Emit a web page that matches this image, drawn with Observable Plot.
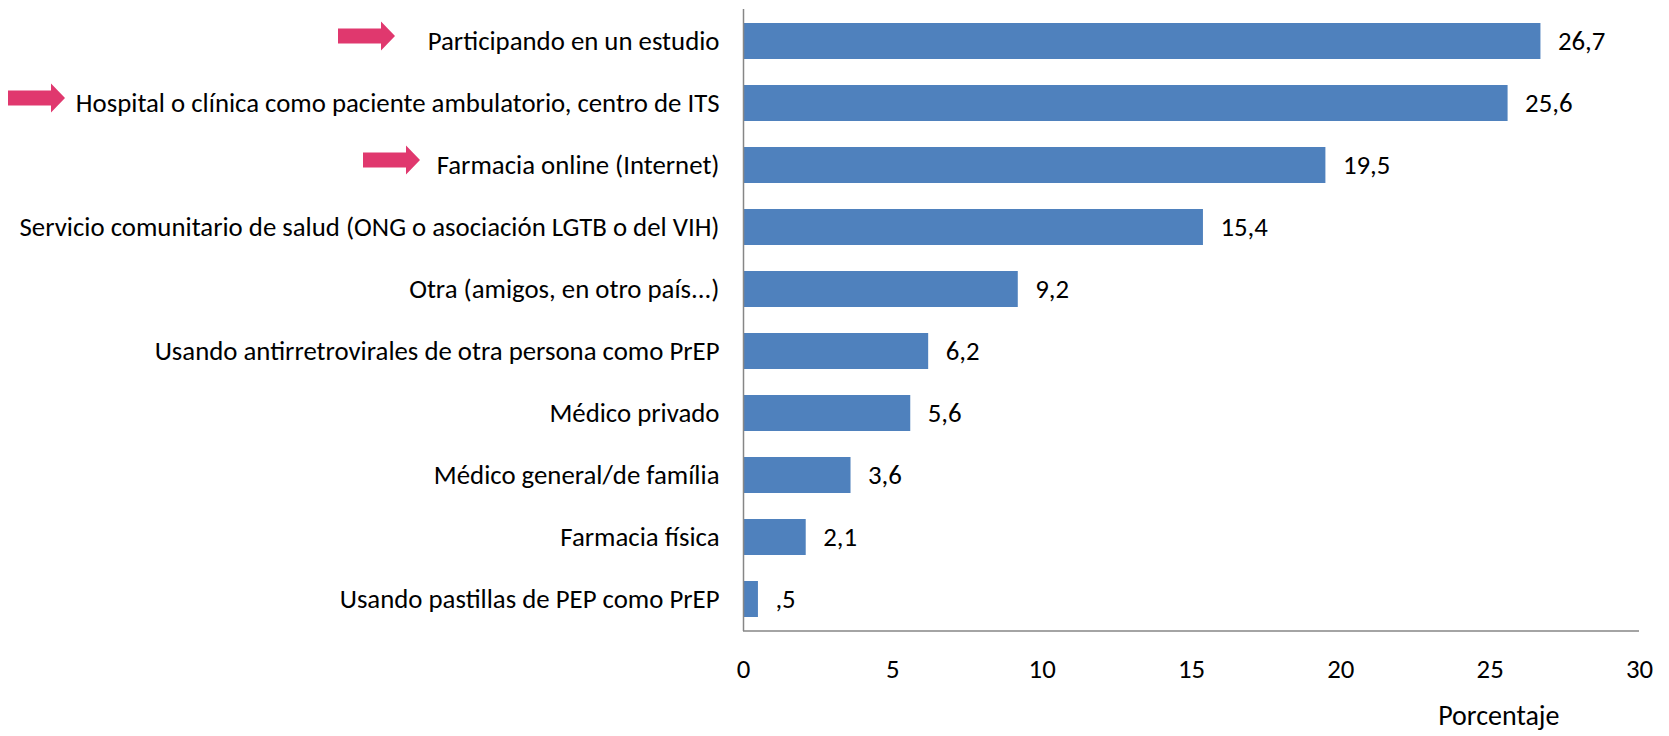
<!DOCTYPE html>
<html>
<head>
<meta charset="utf-8">
<script src="https://cdn.jsdelivr.net/npm/d3@7"></script>
<script src="https://cdn.jsdelivr.net/npm/@observablehq/plot@0.6"></script>
<style>
  html, body { margin: 0; padding: 0; background: #fff; }
  #chart { position: relative; width: 1669px; height: 736px; }
  svg { font-family: Carlito, Calibri, Lato, sans-serif; }
</style>
</head>
<body>
<div id="chart"></div>
<script>
const categories = [
  "Participando en un estudio",
  "Hospital o clínica como paciente ambulatorio, centro de ITS",
  "Farmacia online (Internet)",
  "Servicio comunitario de salud (ONG o asociación LGTB o del VIH)",
  "Otra (amigos, en otro país...)",
  "Usando antirretrovirales de otra persona como PrEP",
  "Médico privado",
  "Médico general/de família",
  "Farmacia física",
  "Usando pastillas de PEP como PrEP"
];
const values = [26.7, 25.6, 19.5, 15.4, 9.2, 6.2, 5.6, 3.6, 2.1, 0.5];
const xTicks = [0, 5, 10, 15, 20, 25, 30];
const highlighted = [
  "Participando en un estudio",
  "Hospital o clínica como paciente ambulatorio, centro de ITS",
  "Farmacia online (Internet)"
];
const axisTitle = "Porcentaje";

const data = categories.map((c, i) => ({category: c, value: values[i]}));
const fmt = v => d3.format(".1f")(v).replace(".", ",").replace(/^0,/, ",");

// arrow tip offsets (px, left of the y axis) for highlighted rows
const arrowTipOffset = [348, 678, 323];

const arrows = (index, scales, vals, dims) => {
  const g = d3.create("svg:g");
  highlighted.forEach((c, i) => {
    const cy = scales.y(c) + scales.y.bandwidth() / 2 - 5;
    const tip = dims.marginLeft - arrowTipOffset[i];
    const L = 57, head = 14, sh = 7.5, hh = 14.5;
    const x0 = tip - L;
    const p = `M${x0},${cy - sh}H${tip - head}V${cy - hh}L${tip},${cy}L${tip - head},${cy + hh}V${cy + sh}H${x0}Z`;
    g.append("path").attr("d", p).attr("fill", "#E0386E");
  });
  return g.node();
};

const bottomLine = (index, scales, vals, dims) => {
  const y = dims.height - dims.marginBottom;
  return d3.create("svg:line")
    .attr("x1", scales.x(0)).attr("x2", scales.x(30))
    .attr("y1", y).attr("y2", y)
    .attr("stroke", "#868686").attr("stroke-width", 1.5)
    .node();
};

const FS = 26.8;

const chart = Plot.plot({
  width: 1669,
  height: 736,
  marginLeft: 743,
  marginRight: 30,
  marginTop: 9,
  marginBottom: 105,
  style: {fontSize: FS + "px", color: "#000", background: "#fff"},
  x: {domain: [0, 30], ticks: xTicks},
  y: {domain: categories, paddingInner: 0.42, paddingOuter: 0.2},
  marks: [
    Plot.barX(data, {x: "value", y: "category", fill: "#4F81BD"}),
    Plot.text(data, {x: "value", y: "category", text: d => fmt(d.value), textAnchor: "start", dx: 17, fill: "#000", fontSize: FS}),
    Plot.axisY({tickSize: 0, tickPadding: 24, label: null, fontSize: FS}),
    Plot.axisX({ticks: xTicks, tickSize: 0, tickPadding: 27, label: null, fontSize: FS, tickFormat: d => String(d)}),
    Plot.ruleX([0], {stroke: "#868686", strokeWidth: 1.5}),
    bottomLine,
    Plot.text([axisTitle], {frameAnchor: "bottom-right", lineAnchor: "middle", dx: -80, dy: 85, textAnchor: "end", fontSize: 28, fill: "#000"}),
    arrows
  ]
});
document.getElementById("chart").appendChild(chart);
</script>
</body>
</html>
